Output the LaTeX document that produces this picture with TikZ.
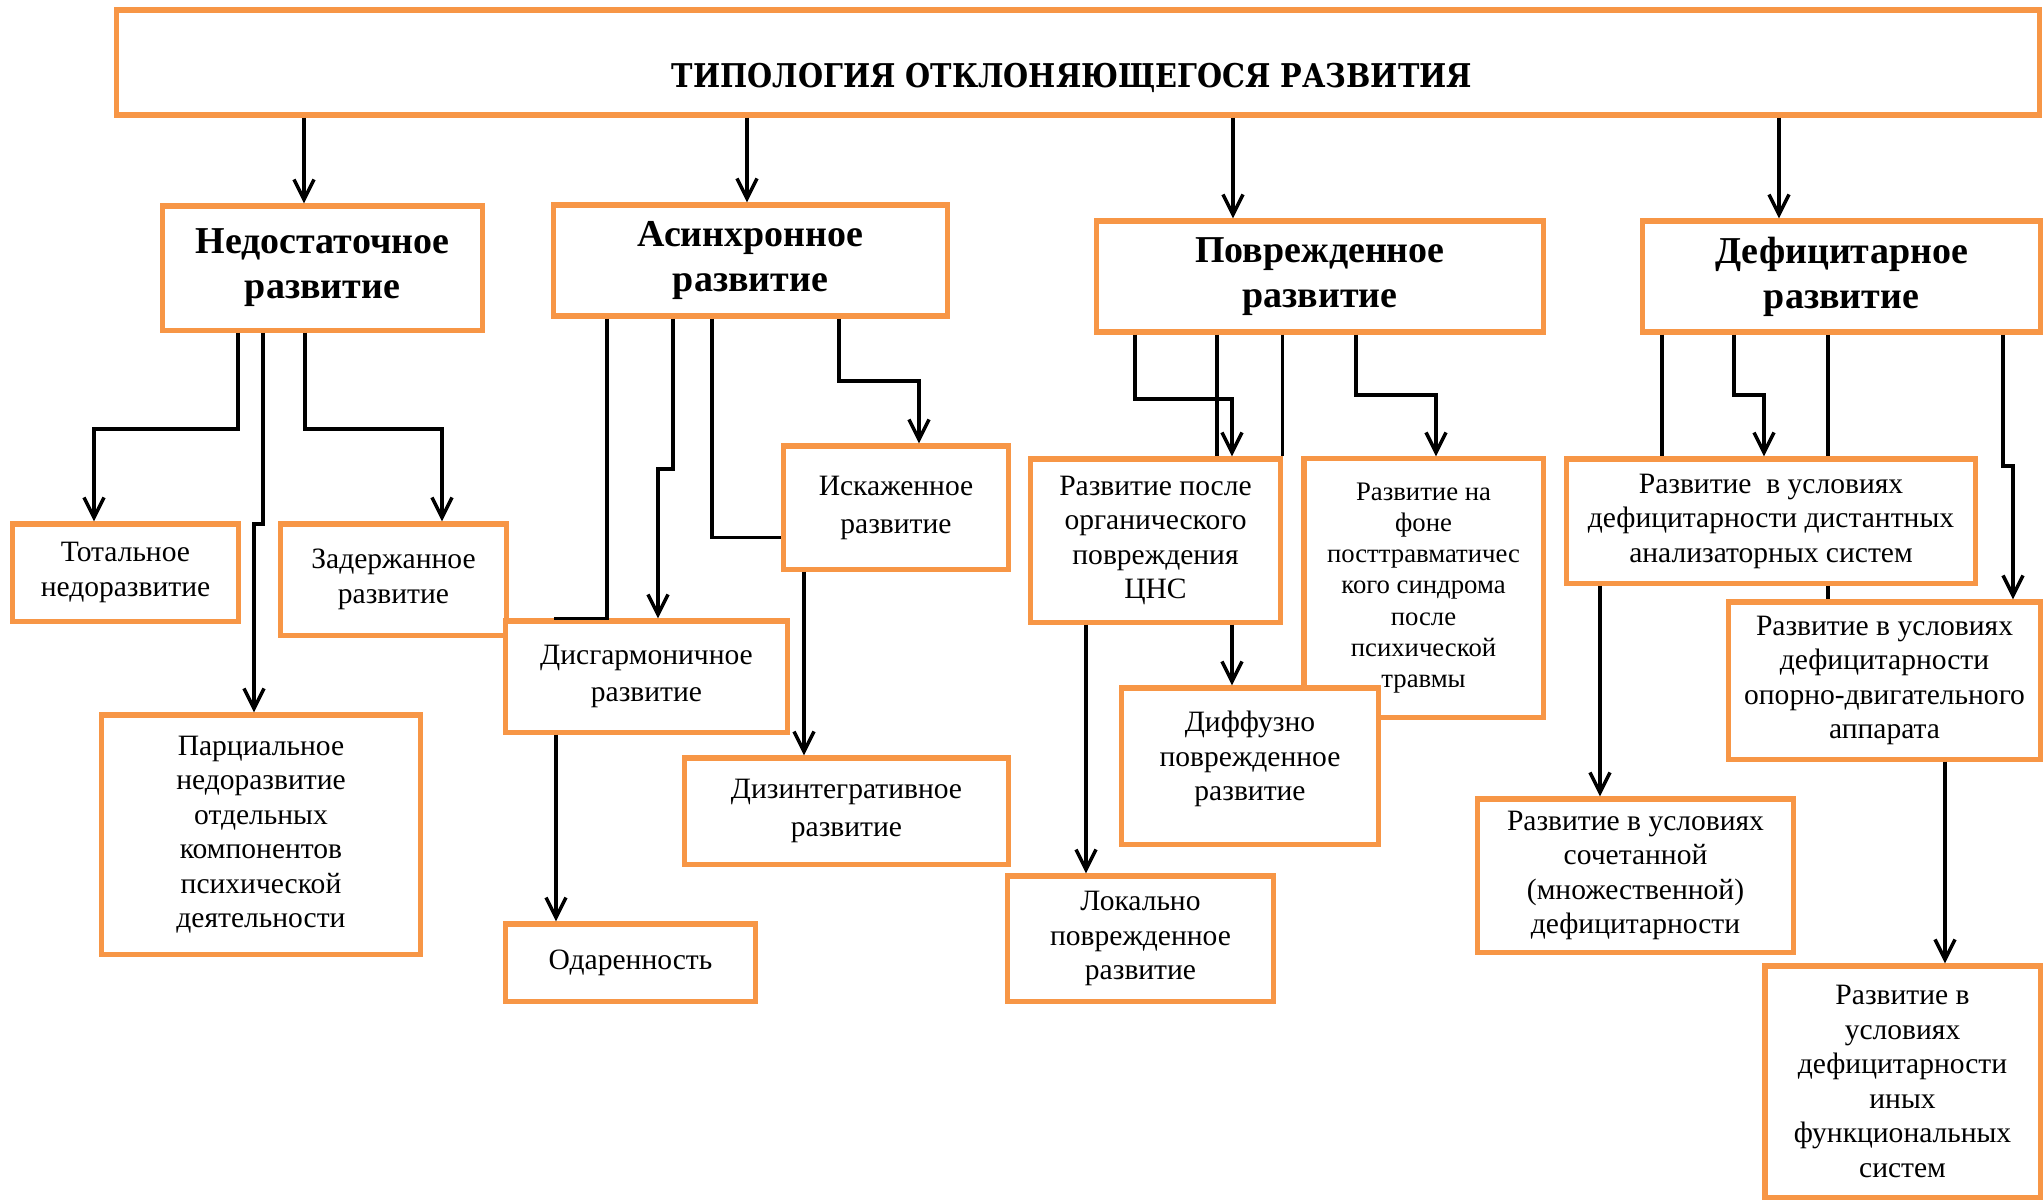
\documentclass[tikz,border=0pt]{standalone}
\usepackage{fontspec}
\setmainfont{Liberation Serif}
\newfontfamily\headfont[FakeStretch=0.88]{DejaVu Serif}
\definecolor{boxorange}{HTML}{F79646}
\usetikzlibrary{positioning,arrows.meta}

\begin{document}
\begin{tikzpicture}[x=0.01cm,y=-0.01cm]
\tikzstyle{box}=[rectangle, draw=boxorange, line width=1.45pt, fill=white, align=center, inner sep=1pt, font=\fontsize{8.4}{9.8}\selectfont]
\tikzstyle{kind}=[box, font=\bfseries\fontsize{10.8}{12.8}\selectfont]
\tikzstyle{connect}=[-{Straight Barb[length=2mm,width=2mm]}, line width=1pt]
\tikzstyle{line}=[line width=1pt]
\useasboundingbox (0,0) rectangle (2043,1199);

	\node[box, minimum width=19.22cm, minimum height=1.05cm] (t_0) at (1078,62.5) {};
	\node[font=\headfont\bfseries\fontsize{9.3}{11}\selectfont] (t_text) at (1072,78) {ТИПОЛОГИЯ ОТКЛОНЯЮЩЕГОСЯ РАЗВИТИЯ};

	\node[kind, minimum width=3.19cm, minimum height=1.24cm] (ned) at (322.5,268) {Недостаточное\\развитие};
	\node[kind, minimum width=3.93cm, minimum height=1.11cm] (asin) at (750.5,260.5) {Асинхронное\\развитие};
	\node[kind, minimum width=4.46cm, minimum height=1.11cm] (povr) at (1320,276.5) {Поврежденное\\развитие};
	\node[kind, minimum width=3.97cm, minimum height=1.11cm] (defic) at (1841.5,276.5) {Дефицитарное\\развитие};

	\node[box, minimum width=2.25cm, minimum height=0.97cm] (tot) at (125.5,572.5) {Тотальное\\недоразвитие};
	\node[box, minimum width=2.25cm, minimum height=1.11cm] (zad) at (393.5,579.5) {Задержанное\\развитие};
	\node[box, minimum width=3.18cm, minimum height=2.39cm] (parc) at (261,834.5) {Парциальное\\недоразвитие\\отдельных\\компонентов\\психической\\деятельности};

	\node[box, minimum width=2.24cm, minimum height=1.23cm, font=\fontsize{8.4}{10.8}\selectfont] (isk) at (896,507.5) {Искаженное\\развитие};
	\node[box, minimum width=2.81cm, minimum height=1.11cm, font=\fontsize{8.4}{10.5}\selectfont] (disg) at (646.5,676.5) {Дисгармоничное\\развитие};
	\node[box, minimum width=3.23cm, minimum height=1.06cm, font=\fontsize{8.4}{10.8}\selectfont] (dizi) at (846.5,811) {Дизинтегративное\\развитие};
	\node[box, minimum width=2.49cm, minimum height=0.77cm] (odar) at (630.5,962.5) {Одаренность};

	\node[box, minimum width=2.49cm, minimum height=1.63cm] (posle) at (1155.5,540.5) {Развитие после\\органического\\повреждения\\ЦНС};
	\node[box, minimum width=2.39cm, minimum height=2.58cm, font=\fontsize{7.6}{8.9}\selectfont] (fone) at (1423.5,588) {Развитие на\\фоне\\посттравматичес\\кого синдрома\\после\\психической\\травмы};
	\node[box, minimum width=2.56cm, minimum height=1.56cm, text depth=0.2cm] (diff) at (1250,766) {Диффузно\\поврежденное\\развитие};
	\node[box, minimum width=2.65cm, minimum height=1.25cm] (lok) at (1140.5,938.5) {Локально\\поврежденное\\развитие};

	\node[box, minimum width=4.08cm, minimum height=1.24cm] (dist) at (1771,521) {Развитие~ в условиях\\дефицитарности дистантных\\анализаторных систем};
	\node[box, minimum width=3.15cm, minimum height=1.53cm] (soch) at (1635.5,875.5) {Развитие в условиях\\сочетанной\\(множественной)\\дефицитарности};
	\node[box, minimum width=3.11cm, minimum height=1.57cm] (opor) at (1884.5,680.5) {Развитие в условиях\\дефицитарности\\опорно-двигательного\\аппарата};
	\node[box, minimum width=2.75cm, minimum height=2.31cm] (inyh) at (1902.5,1081.5) {Развитие в\\условиях\\дефицитарности\\иных\\функциональных\\систем};

	% from the title
	\draw[connect] (t_0.south -| 304,0) -- (ned.north -| 304,0);
	\draw[connect] (t_0.south -| 747,0) -- (asin.north -| 747,0);
	\draw[connect] (t_0.south -| 1233,0) -- (povr.north -| 1233,0);
	\draw[connect] (t_0.south -| 1779,0) -- (defic.north -| 1779,0);

	\draw[connect] (ned.south -| 238,0) |- (94,429) -- (tot.north -| 94,0);
	\draw[connect] (ned.south -| 263,0) -- (263,524) -- (254,524) -- (parc.north -| 254,0);
	\draw[connect] (ned.south -| 305,0) |- (442,429) -- (zad.north -| 442,0);

	\draw[line] (asin.south -| 607,0) |- (disg.north -| 554,0);
	\draw[connect] (asin.south -| 673,0) |- (658,469) -- (disg.north -| 658,0);
	\draw[line] (asin.south -| 712,0) |- ([yshift=-0.3cm]isk.west);
	\draw[connect] (asin.south -| 839,0) |- (919,381) -- (isk.north -| 919,0);
	\draw[connect] (isk.south -| 804,0) -- (dizi.north -| 804,0);
	\draw[connect] (disg.south -| 556,0) -- (odar.north -| 556,0);

	\draw[connect] (povr.south -| 1135,0) |- (1232,399) -- (posle.north -| 1232,0);
	\draw[line] (povr.south -| 1217,0) -- (posle.north -| 1217,0);
	\draw[line] (povr.south -| posle.north east) -- (posle.north east);
	\draw[connect] (povr.south -| 1356,0) |- (1436,395) -- (fone.north -| 1436,0);
	\draw[connect] (posle.south -| 1232,0) -- (diff.north -| 1232,0);
	\draw[connect] (posle.south -| 1086,0) -- (lok.north -| 1086,0);

	\draw[line] (defic.south -| 1662,0) -- (dist.north -| 1662,0);
	\draw[connect] (defic.south -| 1734,0) |- (1764,395) -- (dist.north -| 1764,0);
	\draw[line] (defic.south -| 1828,0) -- (dist.north -| 1828,0);
	\draw[line] (dist.south -| 1828,0) -- (opor.north -| 1828,0);
	\draw[connect] (defic.south -| 2003,0) |- (2013,466) -- (opor.north -| 2013,0);
	\draw[connect] (dist.south -| 1600,0) -- (soch.north -| 1600,0);
	\draw[connect] (opor.south -| 1945,0) -- (inyh.north -| 1945,0);

\end{tikzpicture}
\end{document}
